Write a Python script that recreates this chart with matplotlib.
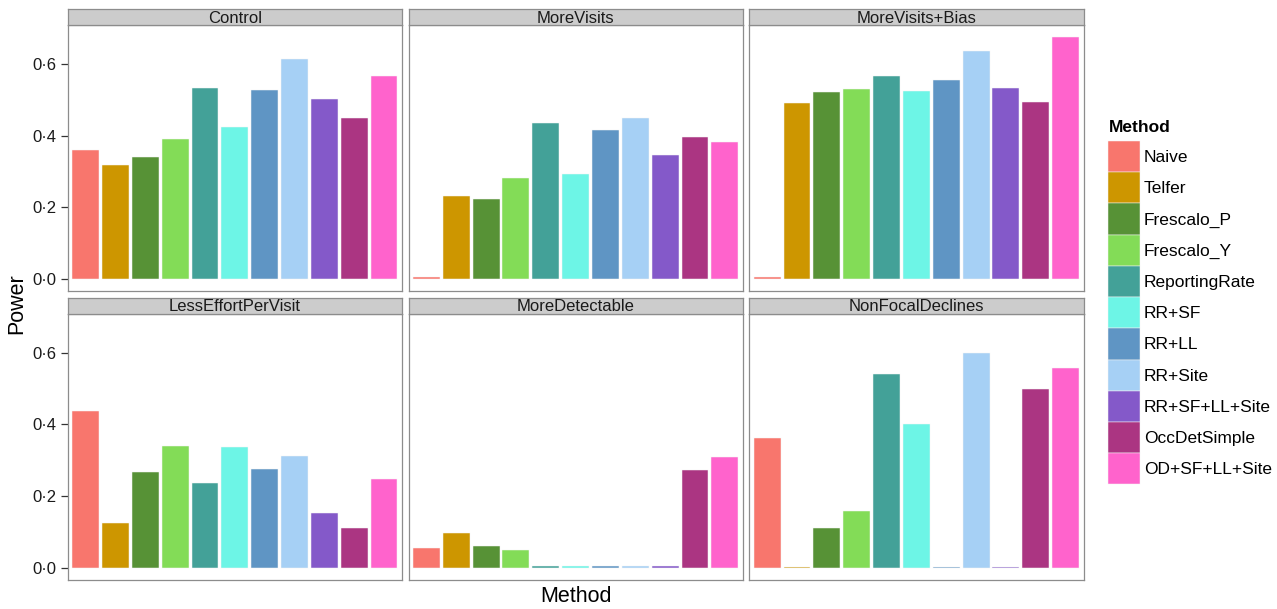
import matplotlib
matplotlib.use('Agg')
import matplotlib.pyplot as plt
from matplotlib.ticker import FuncFormatter

plt.rcParams['font.family'] = ['Liberation Sans', 'DejaVu Sans']

methods = ['Naive', 'Telfer', 'Frescalo_P', 'Frescalo_Y', 'ReportingRate', 'RR+SF',
           'RR+LL', 'RR+Site', 'RR+SF+LL+Site', 'OccDetSimple', 'OD+SF+LL+Site']
colours = ['#F8766D', '#CD9600', '#579236', '#83DC57', '#43A198', '#6DF5E6',
           '#5F95C4', '#A6D0F5', '#8459C9', '#AB3582', '#FF63CC']

scenarios = ['Control', 'MoreVisits', 'MoreVisits+Bias',
             'LessEffortPerVisit', 'MoreDetectable', 'NonFocalDeclines']

control = [0.360, 0.319, 0.341, 0.391, 0.532, 0.424, 0.528, 0.615, 0.502, 0.450, 0.566]
more_visits = [0.004, 0.230, 0.223, 0.281, 0.436, 0.294, 0.416, 0.449, 0.347, 0.396, 0.382]
more_visits_bias = [0.004, 0.492, 0.521, 0.530, 0.565, 0.523, 0.556, 0.637, 0.534, 0.495, 0.674]
less_effort = [0.436, 0.124, 0.268, 0.340, 0.238, 0.336, 0.277, 0.312, 0.154, 0.111, 0.248]
more_detectable = [0.056, 0.097, 0.060, 0.051, 0.004, 0.004, 0.004, 0.004, 0.004, 0.272, 0.309]
non_focal = [0.361, 0.003, 0.111, 0.158, 0.541, 0.400, 0.003, 0.600, 0.003, 0.500, 0.556]

power = [control, more_visits, more_visits_bias, less_effort, more_detectable, non_focal]

W, H = 1277, 609
fig = plt.figure(figsize=(W / 100, H / 100), dpi=100)

def px_axes(x0, y0, x1, y1):
    # pixel box (top-left origin) -> figure axes
    return fig.add_axes([x0 / W, 1 - y1 / H, (x1 - x0) / W, (y1 - y0) / H])

col_x = [67.7, 408.5, 749.3]
pw = 334.2
rows = [(9.3, 25.3, 291.0), (298.0, 314.0, 580.0)]

ymax = max(max(v) for v in power)
ylo, yhi = -0.05 * ymax, 1.05 * ymax
border = '#8c8c8c'

xs = list(range(1, len(methods) + 1))
bars = None
for i, (name, vals) in enumerate(zip(scenarios, power)):
    r, c = divmod(i, 3)
    s0, s1, p1 = rows[r]
    x0 = col_x[c]

    ax = px_axes(x0, s1, x0 + pw, p1)
    bars = ax.bar(xs, vals, width=0.9, color=colours, edgecolor='#f4f4f4', linewidth=0.35)
    ax.set_xlim(0.4, len(methods) + 0.6)
    ax.set_ylim(ylo, yhi)
    ax.set_xticks([])
    ax.set_yticks([0.0, 0.2, 0.4, 0.6])
    ax.yaxis.set_major_formatter(FuncFormatter(lambda v, p: f'{v:.1f}'.replace('.', '\u00b7')))
    if c == 0:
        ax.tick_params(axis='y', length=5, width=0.9, color='#333333',
                       labelsize=12, labelcolor='#1a1a1a', pad=3)
    else:
        ax.tick_params(axis='y', length=0, labelleft=False)
    for sp in ax.spines.values():
        sp.set_color(border)
        sp.set_linewidth(0.9)

    st = px_axes(x0, s0, x0 + pw, s1)
    st.set_facecolor('#CCCCCC')
    st.set_xticks([])
    st.set_yticks([])
    for sp in st.spines.values():
        sp.set_color(border)
        sp.set_linewidth(0.9)
    st.text(0.5, 0.45, name, ha='center', va='center', fontsize=12,
            color='#1a1a1a', transform=st.transAxes)

fig.text(17 / W, 1 - 304 / H, 'Power', rotation=90, ha='center', va='center', fontsize=15.5)
fig.text(575.5 / W, 1 - 597 / H, 'Method', ha='center', va='center', fontsize=15.5)

fs = 12.5
fig.text(1108.5 / W, 1 - 128 / H, 'Method', ha='left', va='center',
         fontsize=fs, fontweight='bold')
leg = fig.legend(bars, methods, loc='upper left', bbox_to_anchor=(1108 / W, 1 - 141 / H),
                 frameon=False, fontsize=fs,
                 handlelength=1.82, handleheight=2.39, labelspacing=0.0,
                 handletextpad=0.25, borderpad=0.0, borderaxespad=0.0)

fig.savefig('out.png', dpi=100)
